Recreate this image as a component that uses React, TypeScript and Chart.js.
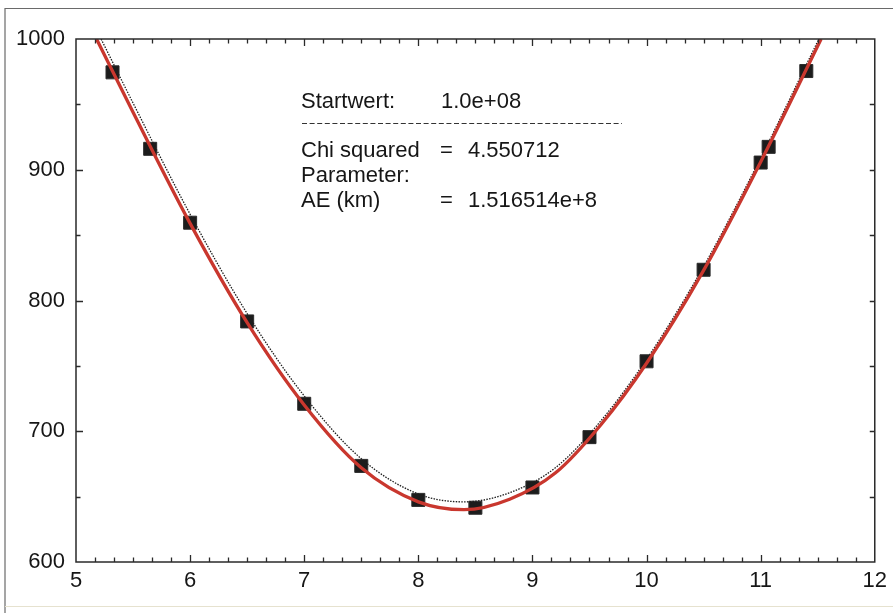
import { useEffect, useRef } from "react";
import { Chart, registerables } from "chart.js";

Chart.register(...registerables);

// ---- data ----
const xTickValues = [5, 6, 7, 8, 9, 10, 11, 12];
const yTickValues = [600, 700, 800, 900, 1000];

const obsX = [5.32, 5.65, 6.0, 6.5, 7.0, 7.5, 8.0, 8.5, 9.0, 9.5, 10.0, 10.5, 11.0, 11.07, 11.4];
const obsY = [974.5, 916, 859.5, 784, 721, 673.5, 647.5, 641.5, 657, 695.5, 753.5, 823.5, 905.5, 917.5, 975.5];

const fitX = [5.18, 5.5, 6.0, 6.5, 7.0, 7.5, 8.0, 8.4, 8.8, 9.2, 9.6, 10.0, 10.5, 11.0, 11.53];
const fitY = [1000, 944, 859, 783, 720, 672, 646, 640, 648, 668, 705, 752, 823, 906, 1000];

const startX = [5.22, 5.5, 6.0, 6.5, 7.0, 7.5, 8.0, 8.4, 8.8, 9.2, 9.6, 10.0, 10.5, 11.0, 11.51];
const startY = [1000, 951, 866, 790, 727, 679, 652, 646, 653, 672, 708, 755, 826, 909, 1000];

const xMinorPerMajor = 6;
const yMinorStep = 50;

const infoStart = ["Startwert:", "1.0e+08"];
const infoChi = ["Chi squared", "=", "4.550712"];
const infoParam = "Parameter:";
const infoAE = ["AE (km)", "=", "1.516514e+8"];

const FONT = '"Liberation Sans", Arial, Helvetica, sans-serif';
const INK = "#161616";

const toPts = (xs: number[], ys: number[]) => xs.map((x, i) => ({ x, y: ys[i] }));

const framePlugin = {
  id: "frameTicks",
  beforeDraw(chart: any) {
    const { ctx, width, height } = chart;
    ctx.save();
    ctx.fillStyle = "#ffffff";
    ctx.fillRect(0, 0, width, height);
    // outer scan frame
    ctx.strokeStyle = "#6a6a6a";
    ctx.lineWidth = 1.2;
    ctx.beginPath();
    ctx.moveTo(5, height);
    ctx.lineTo(5, 8.5);
    ctx.lineTo(width, 8.5);
    ctx.stroke();
    ctx.strokeStyle = "#e6e2cf";
    ctx.beginPath();
    ctx.moveTo(5, 606.5);
    ctx.lineTo(width, 606.5);
    ctx.stroke();
    // dashed separator in the info box
    ctx.strokeStyle = "#333";
    ctx.lineWidth = 1.1;
    ctx.setLineDash([5, 2.6]);
    ctx.beginPath();
    ctx.moveTo(302, 123.5);
    ctx.lineTo(622, 123.5);
    ctx.stroke();
    ctx.restore();
  },
  afterDatasetsDraw(chart: any) {
    const { ctx, chartArea, scales } = chart;
    const xs = scales.x;
    const ys = scales.y;
    const { left, right, top, bottom } = chartArea;
    ctx.save();
    ctx.strokeStyle = "#2a2a2a";
    ctx.lineWidth = 1.5;
    ctx.strokeRect(left, top, right - left, bottom - top);
    ctx.lineWidth = 1.3;
    ctx.beginPath();
    const xmin = xTickValues[0];
    const xmax = xTickValues[xTickValues.length - 1];
    const nx = (xmax - xmin) * xMinorPerMajor;
    for (let i = 1; i < nx; i++) {
      const v = xmin + i / xMinorPerMajor;
      const px = Math.round(xs.getPixelForValue(v)) + 0.5;
      const len = i % xMinorPerMajor === 0 ? 7 : 4.5;
      ctx.moveTo(px, bottom);
      ctx.lineTo(px, bottom - len);
      ctx.moveTo(px, top);
      ctx.lineTo(px, top + len);
    }
    const ymin = yTickValues[0];
    const ymax = yTickValues[yTickValues.length - 1];
    for (let v = ymin + yMinorStep; v < ymax; v += yMinorStep) {
      const py = Math.round(ys.getPixelForValue(v)) + 0.5;
      const len = v % 100 === 0 ? 7 : 4.5;
      ctx.moveTo(left, py);
      ctx.lineTo(left + len, py);
      ctx.moveTo(right, py);
      ctx.lineTo(right - 5, py);
    }
    ctx.stroke();
    ctx.restore();
  },
};

export default function App() {
  const ref = useRef<HTMLCanvasElement>(null);

  useEffect(() => {
    const chart = new Chart(ref.current as HTMLCanvasElement, {
      type: "scatter",
      data: {
        datasets: [
          {
            label: "Fit",
            data: toPts(fitX, fitY),
            showLine: true,
            borderColor: "#c9372e",
            borderWidth: 3.3,
            pointRadius: 0,
            cubicInterpolationMode: "monotone",
            order: 1,
          } as any,
          {
            label: "Startwert",
            data: toPts(startX, startY),
            showLine: true,
            borderColor: "#1e1e1e",
            borderWidth: 1.3,
            borderDash: [1.5, 1.3],
            pointRadius: 0,
            cubicInterpolationMode: "monotone",
            order: 2,
          } as any,
          {
            label: "Messwerte",
            data: toPts(obsX, obsY),
            pointStyle: "rect",
            pointRadius: 9.2,
            backgroundColor: "#1c1c1c",
            borderColor: "#2b2b2b",
            borderWidth: 1,
            order: 3,
          } as any,
        ],
      },
      options: {
        responsive: false,
        animation: false,
        layout: { padding: { left: 0, right: 16, top: 39, bottom: 0 } },
        plugins: {
          legend: { display: false },
          tooltip: { enabled: false },
        },
        scales: {
          x: {
            type: "linear",
            min: xTickValues[0],
            max: xTickValues[xTickValues.length - 1],
            afterBuildTicks: (s: any) => {
              s.ticks = xTickValues.map((v) => ({ value: v }));
            },
            ticks: {
              font: { family: FONT, size: 22 },
              color: INK,
              padding: 6,
              maxRotation: 0,
              autoSkip: false,
              callback: (v: any) => String(v),
            },
            grid: { display: false, drawTicks: false },
            border: { display: false },
            afterFit: (s: any) => {
              s.height = 51;
            },
          },
          y: {
            type: "linear",
            min: yTickValues[0],
            max: yTickValues[yTickValues.length - 1],
            afterBuildTicks: (s: any) => {
              s.ticks = yTickValues.map((v) => ({ value: v }));
            },
            ticks: {
              font: { family: FONT, size: 22 },
              color: INK,
              padding: 11,
              autoSkip: false,
              callback: (v: any) => String(v),
            },
            grid: { display: false, drawTicks: false },
            border: { display: false },
            afterFit: (s: any) => {
              s.width = 76;
            },
          },
        },
      },
      plugins: [framePlugin],
    });
    return () => chart.destroy();
  }, []);

  const txt = (left: number, top: number): any => ({
    position: "absolute",
    left,
    top,
    fontFamily: FONT,
    fontSize: 22,
    lineHeight: "24px",
    color: INK,
    whiteSpace: "nowrap",
  });

  return (
    <div style={{ position: "absolute", left: 0, top: 0, width: 893, height: 613, background: "#fff", overflow: "hidden" }}>
      <canvas ref={ref} width={893} height={613} style={{ display: "block", width: 893, height: 613 }} />
      <div style={txt(301, 89)}>{infoStart[0]}</div>
      <div style={txt(441, 89)}>{infoStart[1]}</div>
      <div style={txt(301, 138)}>{infoChi[0]}</div>
      <div style={txt(440, 138)}>{infoChi[1]}</div>
      <div style={txt(468, 138)}>{infoChi[2]}</div>
      <div style={txt(301, 162.5)}>{infoParam}</div>
      <div style={txt(301, 187.5)}>{infoAE[0]}</div>
      <div style={txt(440, 187.5)}>{infoAE[1]}</div>
      <div style={txt(468, 187.5)}>{infoAE[2]}</div>
    </div>
  );
}
